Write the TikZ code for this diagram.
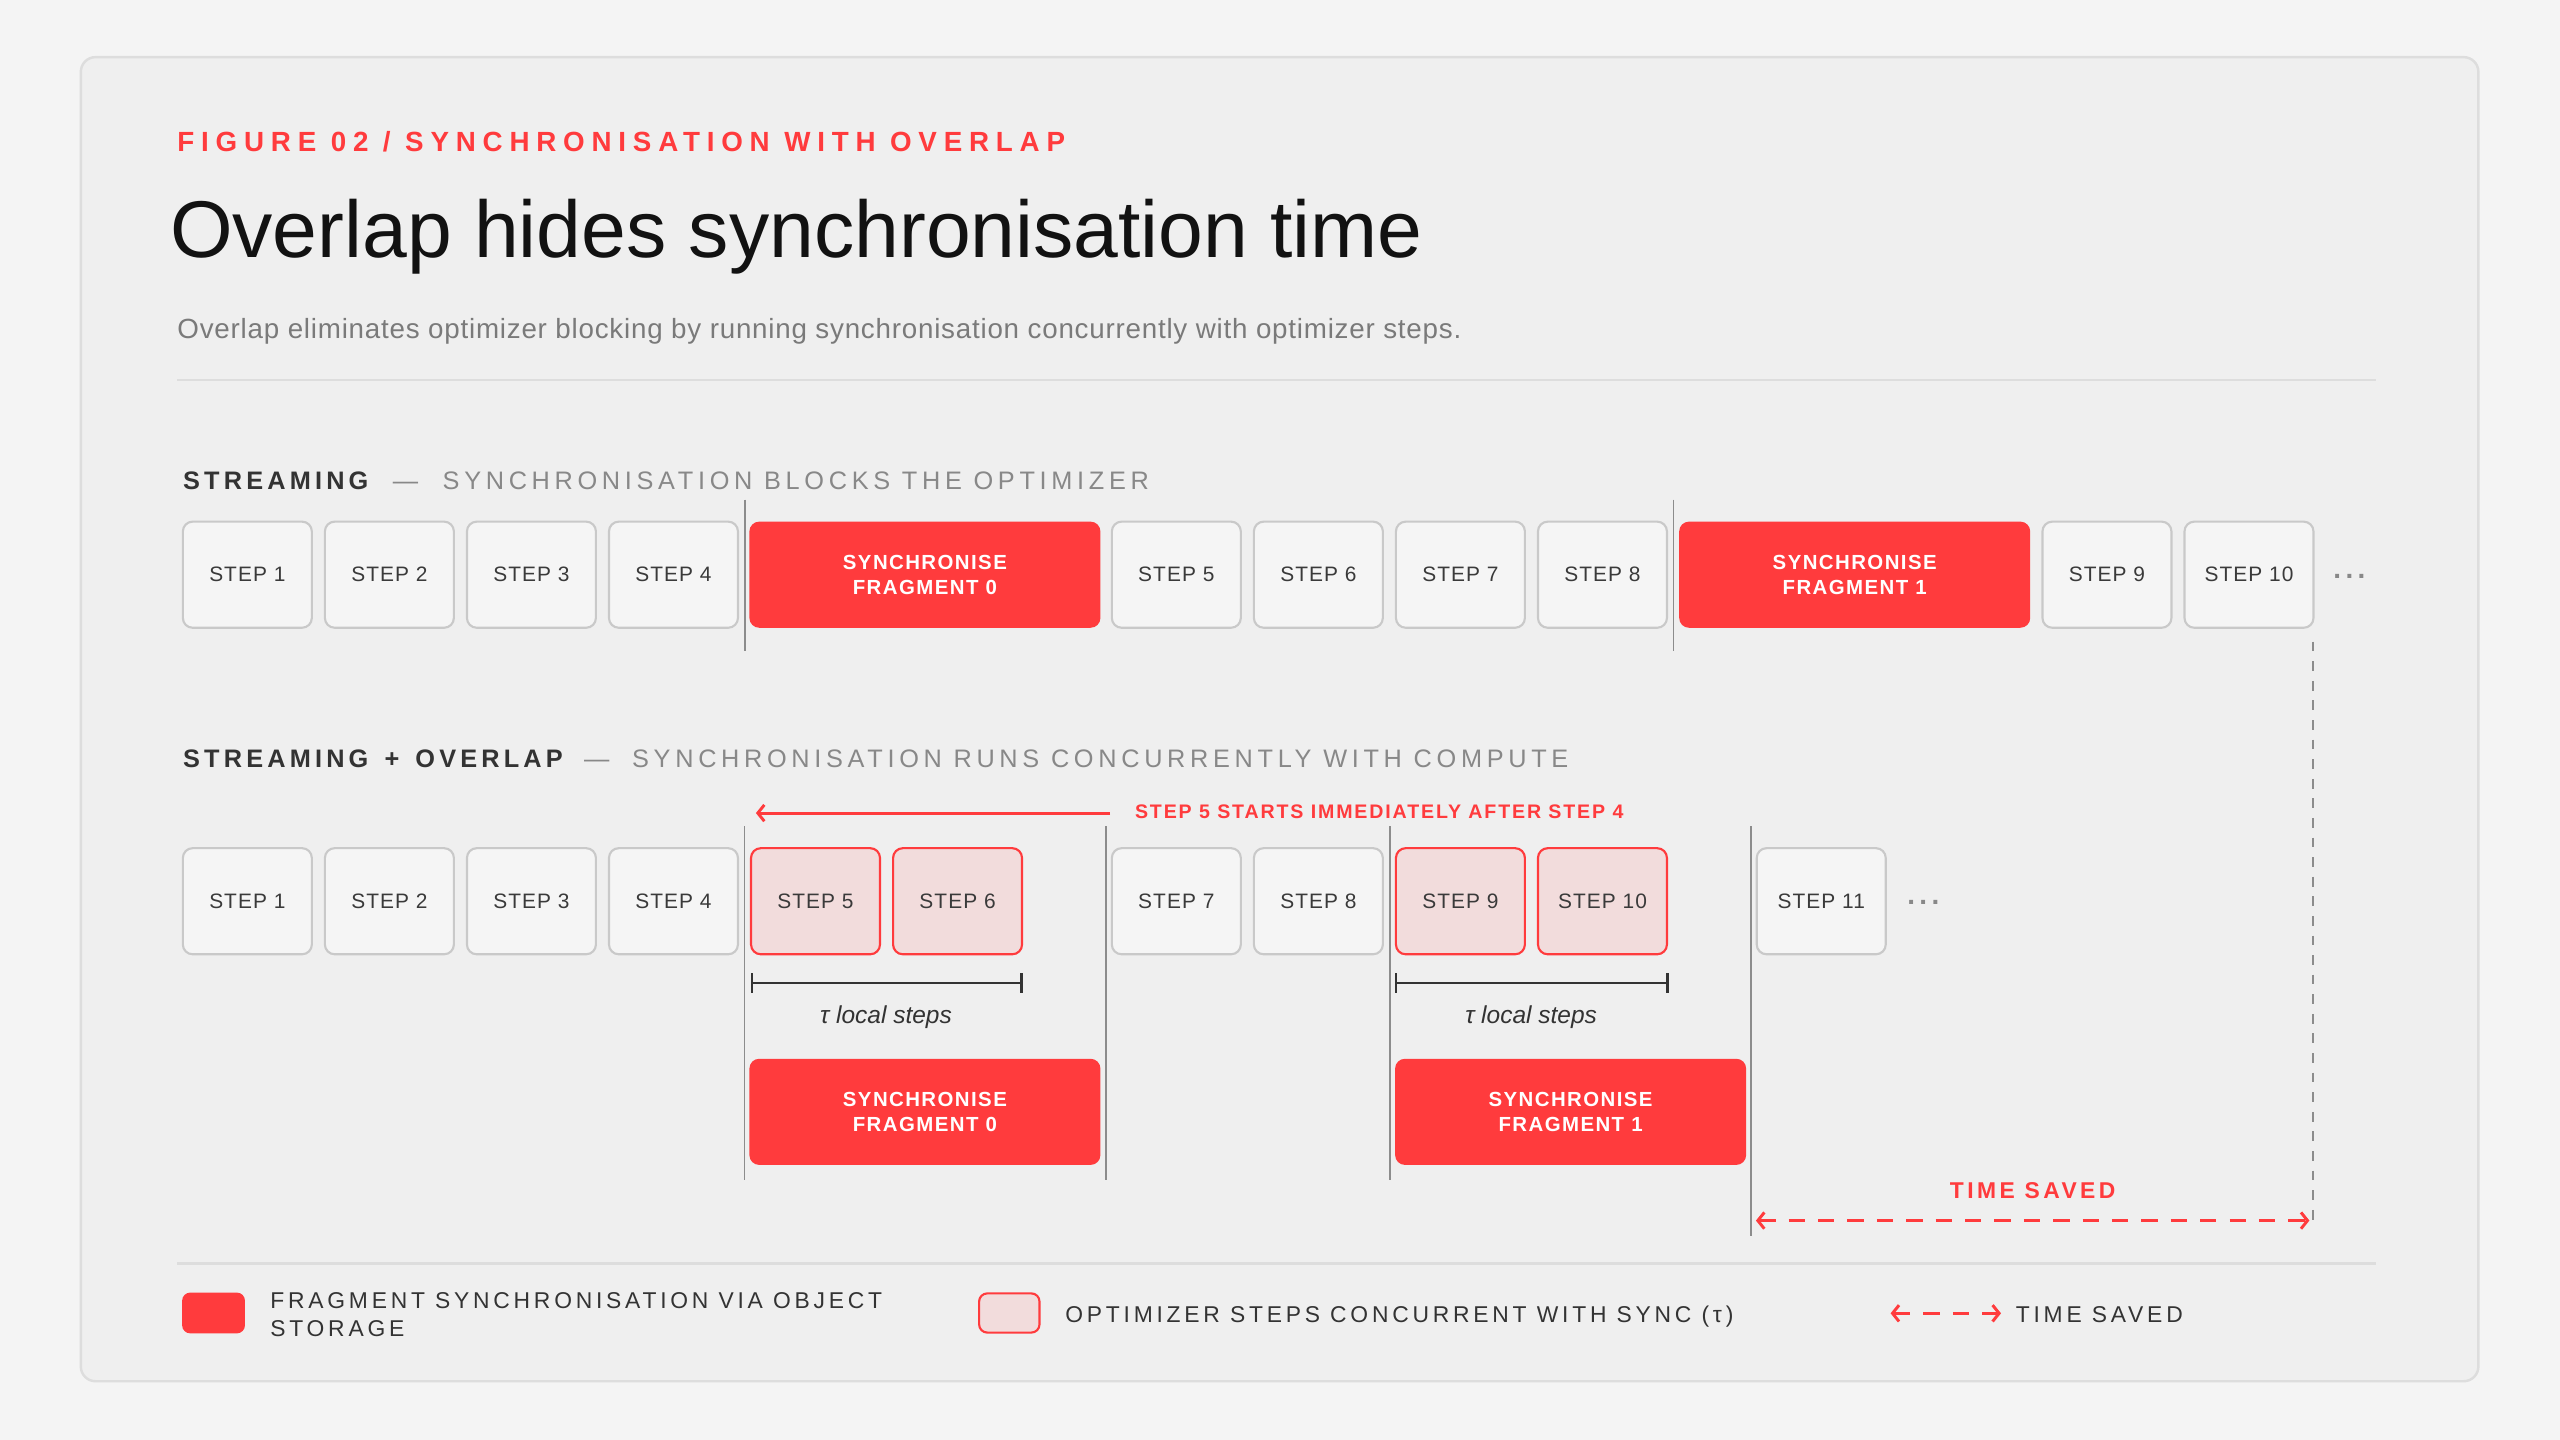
\documentclass[tikz,border=0pt]{standalone}
\usepackage{fontspec}
\setmainfont{Liberation Sans}
\usetikzlibrary{arrows.meta}
\definecolor{pagebg}{HTML}{F4F4F4}
\definecolor{cardbg}{HTML}{EFEFEF}
\definecolor{cardline}{HTML}{DDDDDD}
\definecolor{accent}{HTML}{FF3B3D}
\definecolor{pinkfill}{HTML}{F2DCDC}
\definecolor{boxfill}{HTML}{F5F5F5}
\definecolor{boxline}{HTML}{C9C9C9}
\definecolor{steptext}{HTML}{3A3A3A}
\definecolor{headdark}{HTML}{333333}
\definecolor{greytext}{HTML}{888888}
\definecolor{subgrey}{HTML}{7A7A7A}
\definecolor{markline}{HTML}{8C8C8C}
\newcommand\stepfont{\fontsize{12.8}{15}\selectfont\addfontfeatures{LetterSpace=5}}
\newcommand\syncfont{\fontsize{12.5}{15.5}\selectfont\bfseries\addfontfeatures{LetterSpace=7}}
\newcommand\headfont{\fontsize{15.5}{18}\selectfont}
\newcommand\headbold{\bfseries\addfontfeatures{LetterSpace=16.5}}
\newcommand\headgrey{\mdseries\addfontfeatures{LetterSpace=18.5}}
\newcommand\legfont{\fontsize{14}{17}\selectfont\addfontfeatures{LetterSpace=16.5}}
\tikzset{
  stepbox/.style={draw=boxline, fill=boxfill, line width=1.3pt, rounded corners=6pt,
    minimum width=79pt, minimum height=65pt, inner sep=0pt, font=\stepfont, text=steptext},
  concbox/.style={stepbox, draw=accent, fill=pinkfill},
  syncbox/.style={fill=accent, rounded corners=6pt, minimum width=215pt, minimum height=65pt,
    inner sep=0pt, font=\syncfont, text=white, align=center},
  marker/.style={draw=markline, line width=1.2pt},
  txt/.style={inner sep=0pt, anchor=base west},
  more/.style={inner sep=0pt, text=greytext, font=\fontsize{17}{18}\selectfont\bfseries\addfontfeatures{LetterSpace=16}},
  saved/.style={draw=accent, line width=1.8pt, dash pattern=on 10pt off 8pt,
    {Straight Barb[length=4pt,width=10pt]}-{Straight Barb[length=4pt,width=10pt]}},
  span/.style={draw=headdark, line width=1.4pt, {Bar[width=12pt]}-{Bar[width=12pt]}},
}
\begin{document}
\begin{tikzpicture}[x=1pt, y=-1pt]
    \useasboundingbox (0,0) rectangle (1568,882);
    \fill [pagebg] (0,0) rectangle (1568,882);
    \filldraw [fill=cardbg, draw=cardline, line width=1.5pt, rounded corners=9pt] (49.5,35) rectangle (1518,846);

    % heading
    \node [txt, text=accent, font=\fontsize{17}{20}\selectfont\bfseries\addfontfeatures{LetterSpace=24.5}] (fig) at (108.5,93) {FIGURE 02 / SYNCHRONISATION WITH OVERLAP};
    \node [txt, text=black!93, font=\fontsize{49.3}{52}\selectfont] (title) at (104,157.5) {Overlap hides synchronisation time};
    \node [txt, text=subgrey, font=\fontsize{17}{19}\selectfont\addfontfeatures{LetterSpace=2.8}] (sub) at (108.5,207.5) {Overlap eliminates optimizer blocking by running synchronisation concurrently with optimizer steps.};
    \draw [cardline, line width=1.5pt] (108.5,232.7) -- (1455,232.7);

    % streaming
    \node [txt, font=\headfont] (head1) at (112,300) {\color{headdark}\headbold STREAMING\hspace{15pt}\color{greytext}\headgrey —\hspace{15pt}SYNCHRONISATION BLOCKS THE OPTIMIZER};
    \node [stepbox] (a1) at (151.5,352) {STEP 1};
    \node [stepbox] (a2) at (238.5,352) {STEP 2};
    \node [stepbox] (a3) at (325.5,352) {STEP 3};
    \node [stepbox] (a4) at (412.5,352) {STEP 4};
    \node [syncbox] (as0) at (566.5,352) {SYNCHRONISE\\FRAGMENT 0};
    \node [stepbox] (a5) at (720.5,352) {STEP 5};
    \node [stepbox] (a6) at (807.5,352) {STEP 6};
    \node [stepbox] (a7) at (894.5,352) {STEP 7};
    \node [stepbox] (a8) at (981.5,352) {STEP 8};
    \node [syncbox] (as1) at (1136,352) {SYNCHRONISE\\FRAGMENT 1};
    \node [stepbox] (a9) at (1290.5,352) {STEP 9};
    \node [stepbox] (a10) at (1377.5,352) {STEP 10};
    \node [more] (amore) at (1439,353) {...};
    \draw [marker] (456.5,306) -- (456.5,399);
    \draw [marker] (1025,306) -- (1025,399);

    % streaming + overlap
    \node [txt, font=\headfont] (head2) at (112,470) {\color{headdark}\headbold STREAMING\hspace{3pt} + \hspace{3pt}OVERLAP\hspace{13pt}\color{greytext}\headgrey —\hspace{14pt}SYNCHRONISATION RUNS CONCURRENTLY WITH COMPUTE};
    \coordinate (noteS) at (680,498);
    \coordinate (noteE) at (463,498);
    \draw [accent, line width=1.8pt, -{Straight Barb[length=4pt,width=10pt]}] (noteS) -- (noteE);
    \node [txt, text=accent, font=\fontsize{12}{14}\selectfont\bfseries\addfontfeatures{LetterSpace=9.5}] (note) at (695,501.5) {STEP 5 STARTS IMMEDIATELY AFTER STEP 4};

    \node [stepbox] (b1) at (151.5,552) {STEP 1};
    \node [stepbox] (b2) at (238.5,552) {STEP 2};
    \node [stepbox] (b3) at (325.5,552) {STEP 3};
    \node [stepbox] (b4) at (412.5,552) {STEP 4};
    \node [concbox] (b5) at (499.5,552) {STEP 5};
    \node [concbox] (b6) at (586.5,552) {STEP 6};
    \node [stepbox] (b7) at (720.5,552) {STEP 7};
    \node [stepbox] (b8) at (807.5,552) {STEP 8};
    \node [concbox] (b9) at (894.5,552) {STEP 9};
    \node [concbox] (b10) at (981.5,552) {STEP 10};
    \node [stepbox] (b11) at (1115.5,552) {STEP 11};
    \node [more] (bmore) at (1178,553) {...};

    \coordinate (tau0l) at (459.7,602);
    \coordinate (tau0r) at (626.4,602);
    \coordinate (tau1l) at (854.5,602);
    \coordinate (tau1r) at (1022,602);
    \draw [span] (tau0l) -- (tau0r);
    \draw [span] (tau1l) -- (tau1r);
    \node [inner sep=0pt, anchor=base, text=headdark, font=\fontsize{15}{17}\selectfont\itshape] (tau0) at (542.7,627) {τ local steps};
    \node [inner sep=0pt, anchor=base, text=headdark, font=\fontsize{15}{17}\selectfont\itshape] (tau1) at (937.8,627) {τ local steps};

    \node [syncbox] (bs0) at (566.5,681) {SYNCHRONISE\\FRAGMENT 0};
    \node [syncbox] (bs1) at (962,681) {SYNCHRONISE\\FRAGMENT 1};

    \draw [marker] (456,506) -- (456,722.7);
    \draw [marker] (677.5,506) -- (677.5,722.7);
    \draw [marker] (851.5,506) -- (851.5,722.7);
    \draw [marker] (1072.5,506) -- (1072.5,757);
    \draw [marker, dash pattern=on 6pt off 6pt] (1416.7,393) -- (1416.7,752);

    % time saved
    \node [inner sep=0pt, anchor=base, text=accent, font=\fontsize{14}{16}\selectfont\bfseries\addfontfeatures{LetterSpace=15}] (savedtxt) at (1245,734) {TIME SAVED};
    \coordinate (savedL) at (1075.5,747.6);
    \coordinate (savedR) at (1414.5,747.6);
    \draw [saved] (savedL) -- (savedR);

    % legend
    \draw [cardline, line width=1.5pt] (108.5,773.8) -- (1455,773.8);
    \node [fill=accent, rounded corners=5pt, minimum width=38.5pt, minimum height=25pt, inner sep=0pt] (legsync) at (130.8,804.2) {};
    \node [txt, text=headdark, font=\legfont] (leg1a) at (165.4,801.3) {FRAGMENT SYNCHRONISATION VIA OBJECT};
    \node [txt, text=headdark, font=\legfont] (leg1b) at (165.4,818.6) {STORAGE};
    \node [draw=accent, fill=pinkfill, line width=1.3pt, rounded corners=5pt, minimum width=37pt, minimum height=24pt, inner sep=0pt] (legconc) at (618.2,804.2) {};
    \node [txt, text=headdark, font=\legfont] (leg2) at (652.3,810) {OPTIMIZER STEPS CONCURRENT WITH SYNC (τ)};
    \coordinate (legL) at (1158,804.4);
    \coordinate (legR) at (1225.6,804.4);
    \draw [saved] (legL) -- (legR);
    \node [txt, text=headdark, font=\legfont] (leg3) at (1234.5,810) {TIME SAVED};
\end{tikzpicture}
\end{document}
